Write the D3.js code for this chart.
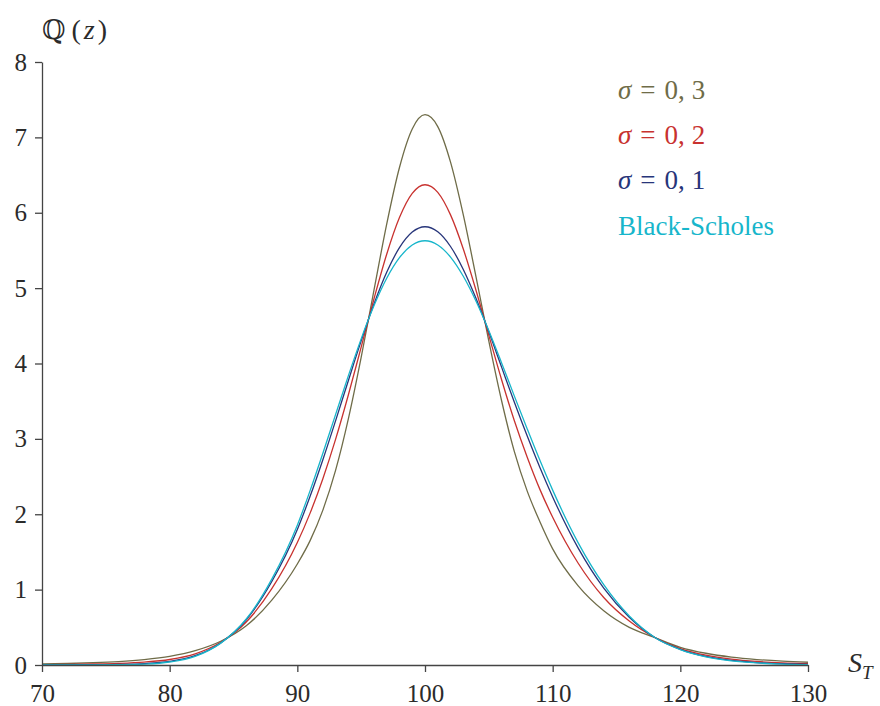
<!DOCTYPE html>
<html>
<head>
<meta charset="utf-8">
<script src="https://cdn.jsdelivr.net/npm/d3@7"></script>
<style>
  html, body { margin: 0; padding: 0; background: #fff; }
  svg { display: block; }
</style>
</head>
<body>
<svg id="chart" width="880" height="706"></svg>
<script>
// ---- data ----
const xValues = [70,72,74,76,78,80,82,84,86,88,90,91,92,93,94,95,96,97,98,99,100,101,102,103,104,105,106,107,108,109,110,112,114,116,118,120,122,124,126,128,130];
const sigma03 = [0.0131,0.0201,0.0302,0.0459,0.0724,0.1150,0.1900,0.3150,0.5200,0.8600,1.3400,1.6500,2.0550,2.5850,3.2687,4.0811,4.9703,5.8491,6.6005,7.1117,7.3007,7.1429,6.6712,5.9714,5.1466,4.2969,3.5060,2.8307,2.3100,1.9000,1.5400,1.0500,0.7200,0.5000,0.3650,0.2350,0.1560,0.1050,0.0720,0.0505,0.0366];
const sigma02 = [0.0058,0.0090,0.0138,0.0221,0.0387,0.0730,0.1480,0.3010,0.5700,1.0120,1.6250,2.0150,2.4720,2.9960,3.5853,4.2177,4.8562,5.4499,5.9356,6.2565,6.3718,6.2708,5.9718,5.5191,4.9683,4.3740,3.7848,3.2400,2.7600,2.3300,1.9600,1.3500,0.8950,0.5830,0.3650,0.2180,0.1300,0.0775,0.0470,0.0295,0.0195];
const sigma01 = [0.0015,0.0023,0.0040,0.0078,0.0184,0.0475,0.1230,0.2930,0.6000,1.1080,1.7980,2.2380,2.7239,3.2426,3.7753,4.2997,4.7877,5.2103,5.5366,5.7433,5.8145,5.7475,5.5522,5.2478,4.8614,4.4203,3.9520,3.4850,3.0400,2.6200,2.2300,1.5500,1.0200,0.6330,0.3650,0.2080,0.1130,0.0605,0.0320,0.0170,0.0092];
const blackScholes = [0.0000,0.0001,0.0007,0.0030,0.0117,0.0400,0.1150,0.2900,0.6100,1.1400,1.8553,2.3134,2.8091,3.3248,3.8386,4.3270,4.7649,5.1305,5.4036,5.5723,5.6287,5.5731,5.4123,5.1573,4.8257,4.4357,4.0078,3.5670,3.1350,2.7150,2.3200,1.6200,1.0650,0.6500,0.3650,0.2050,0.1090,0.0555,0.0272,0.0128,0.0058];

const xTicks = [70,80,90,100,110,120,130];
const yTicks = [0,1,2,3,4,5,6,7,8];

const seriesNames = ["σ = 0,3", "σ = 0,2", "σ = 0,1", "Black-Scholes"];
const seriesValues = [sigma03, sigma02, sigma01, blackScholes];
const seriesColors = ["#6f6c48", "#c8322f", "#27357a", "#17b6cb"];

// ---- layout ----
const svg = d3.select("#chart");
const plotLeft = 42, plotRight = 808, plotTop = 62, plotBottom = 665;
const x = d3.scaleLinear().domain([70,130]).range([plotLeft, plotRight]);
const y = d3.scaleLinear().domain([0,8]).range([plotBottom, plotTop]);

const axisColor = "#444";
const textColor = "#2b2b2b";
const serif = "'Liberation Serif', 'DejaVu Serif', serif";

// curves
const line = d3.line()
  .x((d, i) => x(xValues[i]))
  .y(d => y(d))
  .curve(d3.curveMonotoneX);

svg.append("g").selectAll("path")
  .data(seriesValues)
  .join("path")
  .attr("fill", "none")
  .attr("stroke", (d, i) => seriesColors[i])
  .attr("stroke-width", 1.3)
  .attr("d", d => line(d));

// axes
const xAxis = d3.axisBottom(x).tickValues(xTicks).tickSize(7).tickSizeOuter(0).tickPadding(12).tickFormat(d3.format("d"));
const yAxis = d3.axisLeft(y).tickValues(yTicks).tickSize(7).tickSizeOuter(0).tickPadding(8).tickFormat(d3.format("d"));

const gx = svg.append("g").attr("transform", `translate(0,${plotBottom})`).call(xAxis);
const gy = svg.append("g").attr("transform", `translate(${plotLeft},0)`).call(yAxis);

[gx, gy].forEach(g => {
  g.attr("font-family", null);
  g.select(".domain").attr("stroke", axisColor).attr("stroke-width", 1.3);
  g.selectAll(".tick line").attr("stroke", axisColor).attr("stroke-width", 1.3);
  g.selectAll(".tick text").attr("fill", textColor)
    .style("font-family", serif).style("font-size", "25px");
});

// y-axis title  Q(z)
const yt = svg.append("text")
  .attr("x", 42).attr("y", 39)
  .attr("fill", textColor)
  .style("font-family", serif).style("font-size", "28px");
yt.append("tspan").text("ℚ").style("font-family", "'DejaVu Serif', serif").style("font-size", "27px");
yt.append("tspan").text("(").attr("dx", 6);
yt.append("tspan").text("z").attr("dx", 3).style("font-style", "italic");
yt.append("tspan").text(")").attr("dx", 3);

// x-axis title S_T
const xt = svg.append("text")
  .attr("x", 848).attr("y", 672)
  .attr("fill", textColor)
  .style("font-family", serif).style("font-size", "28px").style("font-style", "italic");
xt.append("tspan").text("S");
xt.append("tspan").text("T").attr("dy", 7).style("font-size", "19px");

// legend
const legendY = [99, 144, 189, 235];
seriesNames.forEach((name, i) => {
  const t = svg.append("text")
    .attr("x", 618).attr("y", legendY[i])
    .attr("fill", seriesColors[i])
    .style("font-family", serif).style("font-size", "27px");
  if (name.startsWith("σ")) {
    const parts = name.split("=");
    t.append("tspan").text("σ").style("font-style", "italic");
    t.append("tspan").text("=").attr("dx", 9);
    const num = parts[1].trim().split(",");
    t.append("tspan").text(num[0] + ",").attr("dx", 9);
    t.append("tspan").text(num[1]).attr("dx", 7);
  } else {
    t.text(name);
  }
});
</script>
</body>
</html>
